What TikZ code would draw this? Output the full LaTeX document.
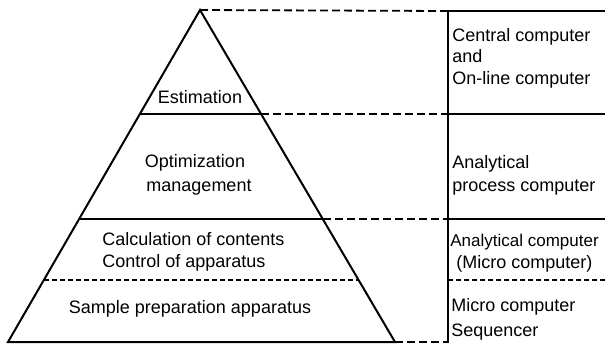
\documentclass[tikz,border=0pt]{standalone}
\usepackage{fontspec}
\setmainfont{Liberation Sans}
\begin{document}
\begin{tikzpicture}[x=0.5pt,y=-0.5pt,
  solidline/.style={line width=1pt},
  longdash/.style={line width=0.9pt,dash pattern=on 4pt off 2pt},
  shortdash/.style={line width=0.7pt,dash pattern=on 2.5pt off 1.5pt},
  lbl/.style={anchor=base,inner sep=0pt,font=\fontsize{9}{11}\selectfont},
  rlbl/.style={anchor=base west,inner sep=0pt,font=\fontsize{9}{11}\selectfont}]
\useasboundingbox (0,0) rectangle (605,344);
% pyramid corners and the points where each level meets its sides
\coordinate (apex) at (200,10);
\coordinate (bl) at (8,342);
\coordinate (br) at (395,342);
\coordinate (l1) at (140,114);  \coordinate (r1) at (261,114);
\coordinate (l2) at (79,219);   \coordinate (r2) at (323,219);
\coordinate (l3) at (44,280);   \coordinate (r3) at (358.6,280);
% column on the right
\coordinate (ctop) at (448,11);
\coordinate (c1) at (448,114);
\coordinate (c2) at (448,219);
\coordinate (c3) at (448,280);
\coordinate (cbot) at (448,343);
\coordinate (e0) at (605,11);
\coordinate (e1) at (605,114);
\coordinate (e2) at (605,219);
\coordinate (e3) at (605,280);
\coordinate (bx) at (448,342);

% pyramid
\draw[solidline,line join=miter] (bl) -- (apex) -- (br) -- cycle;
\draw[solidline] (l1) -- (r1);
\draw[solidline] (l2) -- (r2);
\draw[shortdash] (l3) -- (r3);

% leaders from the pyramid to the column
\draw[longdash] (apex) -- (ctop);
\draw[longdash] (r1) -- (c1);
\draw[longdash] (r2) -- (c2);
\draw[longdash] (br) -- (bx);

% right column
\draw[solidline] (ctop) -- (cbot);
\draw[solidline] (ctop) -- (e0);
\draw[solidline] (c1) -- (e1);
\draw[solidline] (c2) -- (e2);
\draw[shortdash] (c3) -- (e3);

% pyramid labels
\node[lbl] (est) at (200,103) {Estimation};
\node[lbl] (opt) at (195,167) {Optimization};
\node[lbl] (man) at (199,191) {management};
\node[rlbl] (calc) at (102,245) {Calculation of contents};
\node[rlbl] (ctrl) at (102,267) {Control of apparatus};
\node[lbl] (samp) at (190,313) {Sample preparation apparatus};

% column labels
\node[rlbl] (cc) at (452,41) {Central computer};
\node[rlbl] (and) at (452,62) {and};
\node[rlbl] (ol) at (452,84) {On-line computer};
\node[rlbl] (an) at (452,168) {Analytical};
\node[rlbl] (pc) at (452,191) {process computer};
\node[rlbl,font=\fontsize{8.5}{10}\selectfont] (ac) at (450,246) {Analytical computer};
\node[rlbl] (mc) at (456,268) {(Micro computer)};
\node[rlbl] (mc2) at (451,311) {Micro computer};
\node[rlbl] (seq) at (451,336) {Sequencer};
\end{tikzpicture}
\end{document}
